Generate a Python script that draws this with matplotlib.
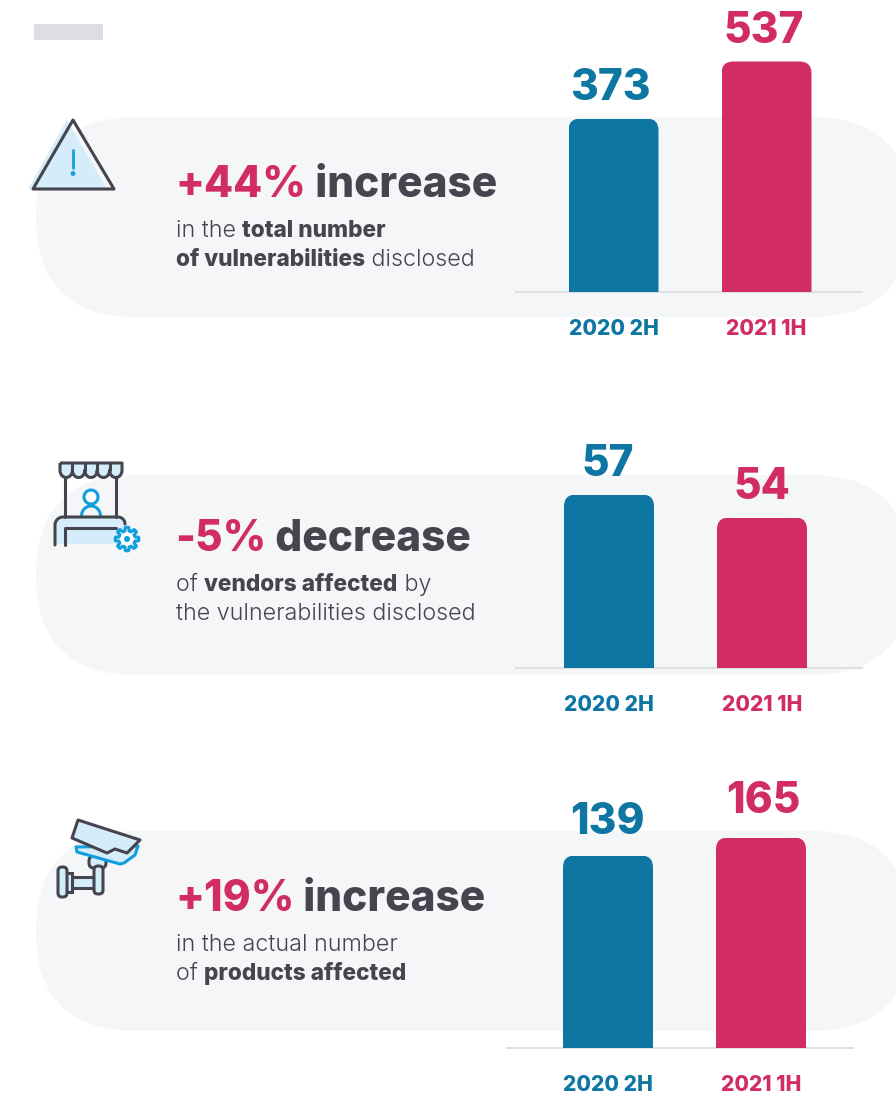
import numpy as np
import matplotlib
matplotlib.use("Agg")
import matplotlib.pyplot as plt
from matplotlib.patches import FancyBboxPatch, Polygon, Circle, Rectangle, PathPatch
from matplotlib.path import Path

periods = ["2020 2H", "2021 1H"]
vulnerabilities = [373, 537]
vendors = [57, 54]
products = [139, 165]

BLUE, PINK, DARK = "#0e76a3", "#d12d62", "#45454f"
LIGHT, CYAN, PILL = "#d5edfa", "#0f9fdc", "#f5f6f8"
FONT = "Inter"
W, H = 896, 1093
HEAVY = 800
REG = 300
BOLDB = 800

plt.rcParams["font.family"] = [FONT, "DejaVu Sans"]
fig = plt.figure(figsize=(W / 100, H / 100), dpi=100, facecolor="white")
bg = fig.add_axes([0, 0, 1, 1])
bg.set_xlim(0, W); bg.set_ylim(H, 0); bg.axis("off")
renderer = fig.canvas.get_renderer()


def runs(x, y, parts, size):
    """Draw mixed-style text pieces on one baseline."""
    for txt, weight, col in parts:
        s = size * 1.027 if weight == REG else size
        bg.text(x, y, txt, fontsize=s, fontweight=weight, color=col, va="baseline", ha="left")
        probe = bg.text(0, 0, "n" + txt + "n", fontsize=s, fontweight=weight)
        p2 = bg.text(0, 0, "nn", fontsize=s, fontweight=weight)
        x += probe.get_window_extent(renderer).width - p2.get_window_extent(renderer).width
        probe.remove(); p2.remove()


def chart(values, ax_left, ax_right, base, c1, gap, bw, k, h, offs):
    v0 = values[0] - h[0] / k
    axh = h[1]
    ax = fig.add_axes([ax_left / W, 1 - base / H, (ax_right - ax_left) / W, axh / H])
    ax.patch.set_alpha(0)
    ax.set_xlim((ax_left - c1) / gap, (ax_right - c1) / gap)
    ax.set_ylim(v0, v0 + axh / k)
    bars = ax.bar([0, 1], values, width=bw / gap, bottom=0, color=[BLUE, PINK], zorder=3)
    for i, b in enumerate(bars):
        b.set_y(v0); b.set_height(values[i] - v0)
        cx = c1 + i * gap
        top = base - (values[i] - v0) * k
        clip = FancyBboxPatch((cx - bw / 2 + 12, top + 12), bw - 24, base - top + 30,
                              boxstyle="round,pad=12,rounding_size=12",
                              transform=bg.transData, fc="none", ec="none")
        b.set_clip_path(clip)
    for s in ("top", "left", "right"):
        ax.spines[s].set_visible(False)
    ax.spines["bottom"].set_color("#dfe0e3")
    ax.spines["bottom"].set_linewidth(1.5)
    ax.set_yticks([])
    ax.set_xticks([0, 1], periods, fontsize=15.2, fontweight=HEAVY)
    ax.tick_params(axis="x", length=0, pad=19.5)
    for lab, c in zip(ax.get_xticklabels(), [BLUE, PINK]):
        lab.set_color(c)
    for i, v in enumerate(values):
        ax.annotate(str(v), (i, v), xytext=(offs[i][0] * 0.72, offs[i][1] * 0.72), textcoords="offset points",
                    ha="center", va="bottom", fontsize=30.5, fontweight=HEAVY,
                    color=[BLUE, PINK][i])
    return ax


def pill(y):
    bg.add_patch(FancyBboxPatch((136, y + 100), 811 - 136, 0,
                                boxstyle="round,pad=100,rounding_size=100",
                                fc=PILL, ec="none", zorder=0))


for y in (117, 475, 831):
    pill(y)

bg.add_patch(Rectangle((34, 24), 69, 16, fc="#dedde3", ec="none"))

# text blocks
SUB = 16.3
runs(175, 197, [("+44%", HEAVY, PINK), (" increase", HEAVY, DARK)], 30.5)
runs(176, 237, [("in the ", REG, DARK), ("total number", BOLDB, DARK)], SUB)
runs(176, 266, [("of vulnerabilities", BOLDB, DARK), (" disclosed", REG, DARK)], SUB)
runs(175, 551, [("-5%", HEAVY, PINK), (" decrease", HEAVY, DARK)], 30.5)
runs(176, 591, [("of ", REG, DARK), ("vendors affected", BOLDB, DARK), (" by", REG, DARK)], SUB)
runs(176, 620, [("the vulnerabilities disclosed", REG, DARK)], SUB)
runs(175, 911, [("+19%", HEAVY, PINK), (" increase", HEAVY, DARK)], 30.5)
runs(176, 951, [("in the actual number", REG, DARK)], SUB)
runs(176, 980, [("of ", REG, DARK), ("products affected", BOLDB, DARK)], SUB)

# charts
chart(vulnerabilities, 516, 862, 291.5, 613.5, 153, 90, 0.3476, (173, 235), [(-3, 9), (-3, 9)])
chart(vendors, 516, 862, 667.5, 609, 153, 90, 7.667, (173, 180), [(-1, 9), (0, 10)])
chart(products, 507, 853, 1047.5, 608, 153, 90, 0.692, (192, 215), [(-1, 13), (2, 16)])

LW = 2.2


def line(pts, col=DARK, lw=LW, z=5):
    p = np.array(pts)
    bg.plot(p[:, 0], p[:, 1], color=col, lw=lw, solid_capstyle="round", solid_joinstyle="round", zorder=z)


def rbox(x0, y0, x1, y1, r, z, fc=LIGHT):
    bg.add_patch(FancyBboxPatch((x0 + r, y0 + r), x1 - x0 - 2 * r, y1 - y0 - 2 * r,
                                boxstyle=f"round,pad={r},rounding_size={r}",
                                fc=fc, ec=DARK, lw=LW, zorder=z))


# warning icon
bg.add_patch(Polygon([(67, 120), (28, 189), (107, 189)], fc=LIGHT, ec="none", zorder=4))
bg.add_patch(Polygon([(73, 120), (33, 189), (114, 189)], closed=True, lw=2.2, fill=False, ec=DARK, joinstyle="round", zorder=5))
line([(73, 150), (73, 168)], CYAN, 2.0)
bg.add_patch(Circle((73, 173.5), 2.4, fc=CYAN, ec="none", zorder=5))

# stall icon
bg.add_patch(Rectangle((56, 518), 68, 26, fc=LIGHT, ec="none", zorder=3))
xs = np.linspace(60, 122, 6)
verts = [(xs[0], 463), (xs[-1], 463), (xs[-1], 470)]
codes = [Path.MOVETO, Path.LINETO, Path.LINETO]
for a, b in zip(xs[::-1][:-1], xs[::-1][1:]):
    verts += [(a, 480), (b, 480), (b, 470)]
    codes += [Path.CURVE4] * 3
verts += [(xs[0], 463)]
codes += [Path.LINETO]
bg.add_patch(PathPatch(Path(verts, codes), fc=LIGHT, ec=DARK, lw=LW, joinstyle="round", zorder=5))
for x in xs[1:-1]:
    line([(x, 463), (x, 470)])
line([(65, 478), (65, 517)])
line([(116, 478), (116, 517)])
bg.add_patch(Circle((91, 497), 7, fc="white", ec=CYAN, lw=LW, zorder=5))
th = np.linspace(np.pi, 2 * np.pi, 30)
line(np.c_[91 + 9.5 * np.cos(th), 516 + 10 * np.sin(th)], CYAN)
th = np.linspace(np.pi, 1.5 * np.pi, 12)
th2 = np.linspace(1.5 * np.pi, 2 * np.pi, 12)
line(np.r_[[(55, 545)], np.c_[63 + 8 * np.cos(th), 525 + 8 * np.sin(th)],
           np.c_[118 + 7 * np.cos(th2), 524 + 7 * np.sin(th2)]])
line([(65, 545), (65, 528), (116, 528)])
ang = np.linspace(0, 2 * np.pi, 193)
r = 10 + 1.8 * np.clip(3 * np.cos(8 * ang), -1, 1)
bg.add_patch(Polygon(np.c_[127 + r * np.cos(ang), 539 + r * np.sin(ang)], fc="white", ec=CYAN, lw=LW, joinstyle="round", zorder=6))
bg.add_patch(Circle((127, 539), 3, fc=CYAN, ec="none", zorder=7))

# camera icon
rbox(89, 856, 106, 868, 5, 3)
bg.add_patch(Polygon([(76, 847), (77, 852), (120, 864), (124, 863), (135, 855), (138, 846)],
                     fc=LIGHT, ec=CYAN, lw=LW, joinstyle="round", zorder=4))
bg.add_patch(Polygon([(78, 820), (140, 840), (127, 853), (115, 849), (107, 853), (72, 838)],
                     fc=LIGHT, ec=DARK, lw=LW, joinstyle="round", zorder=5))
bg.add_patch(Rectangle((67, 877), 27, 11, fc=LIGHT, ec=DARK, lw=LW, zorder=3))
rbox(94, 866, 103, 894, 4, 4)
bg.add_patch(Rectangle((66, 873), 6, 19, fc=LIGHT, ec=DARK, lw=LW, zorder=4))
rbox(58, 867, 67, 897, 4, 4)

fig.savefig("out.png", dpi=100, facecolor="white")
